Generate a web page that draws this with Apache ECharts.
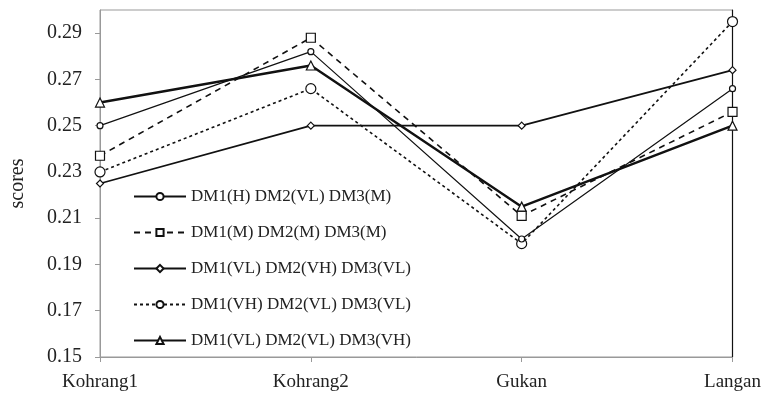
<!DOCTYPE html>
<html>
<head>
<meta charset="utf-8">
<script src="https://cdn.jsdelivr.net/npm/echarts@6/dist/echarts.min.js"></script>
<style>
html,body{margin:0;padding:0;background:#fff;}
#c{width:764px;height:403px;}
</style>
</head>
<body>
<div id="c"></div>
<script>
var categories = ['Kohrang1', 'Kohrang2', 'Gukan', 'Langan'];
var seriesNames = [
  'DM1(H) DM2(VL) DM3(M)',
  'DM1(M) DM2(M) DM3(M)',
  'DM1(VL) DM2(VH) DM3(VL)',
  'DM1(VH) DM2(VL) DM3(VL)',
  'DM1(VL) DM2(VL) DM3(VH)'
];
var s1 = [0.250, 0.282, 0.201, 0.266];
var s2 = [0.237, 0.288, 0.211, 0.256];
var s3 = [0.225, 0.250, 0.250, 0.274];
var s4 = [0.230, 0.266, 0.199, 0.295];
var s5 = [0.260, 0.276, 0.215, 0.250];

var FONT = '"Liberation Serif", "Times New Roman", serif';
var chart = echarts.init(document.getElementById('c'), null, {renderer: 'canvas'});

function mk(name, data, lineW, lineType, symbol, size, z) {
  return {
    name: name, type: 'line', data: data, z: z,
    symbol: symbol, symbolSize: size, showAllSymbol: true,
    lineStyle: {color: '#111', width: lineW, type: lineType},
    itemStyle: {color: '#fff', borderColor: '#111', borderWidth: 1.2},
    emphasis: {disabled: true},
    animation: false
  };
}

chart.setOption({
  animation: false,
  backgroundColor: '#fff',
  grid: {left: 93, right: 31, top: 10, bottom: 46, show: true, borderColor: '#999', borderWidth: 1, containLabel: false},
  legend: {
    orient: 'vertical', left: 128, top: 183,
    itemWidth: 52, itemHeight: 9, itemGap: 19,
    textStyle: {fontFamily: FONT, fontSize: 17, color: '#222'},
    data: seriesNames
  },
  xAxis: {
    type: 'category', data: categories, boundaryGap: false,
    axisLine: {lineStyle: {color: '#999', width: 1}},
    axisTick: {show: true, length: 5, lineStyle: {color: '#999'}},
    axisLabel: {fontFamily: FONT, fontSize: 19, color: '#222', margin: 16}
  },
  yAxis: [{
    type: 'value', min: 0.15, max: 0.30, interval: 0.02,
    name: 'scores', nameLocation: 'middle', nameRotate: 90, nameGap: 72,
    nameTextStyle: {fontFamily: FONT, fontSize: 20, color: '#222'},
    axisLine: {show: true, lineStyle: {color: '#999', width: 1}},
    axisTick: {show: true, length: 5, lineStyle: {color: '#999'}},
    splitLine: {show: false},
    axisLabel: {fontFamily: FONT, fontSize: 20, color: '#222', margin: 18, showMaxLabel: false,
      formatter: function (v) { return v.toFixed(2); }}
  }, {
    type: 'value', min: 0.15, max: 0.30, interval: 0.02, position: 'right',
    axisLine: {show: true, lineStyle: {color: '#111', width: 1.2}},
    axisTick: {show: false}, axisLabel: {show: false}, splitLine: {show: false}
  }],
  series: [
    mk(seriesNames[0], s1, 1.2, 'solid', 'circle', 6, 5),
    mk(seriesNames[1], s2, 1.6, [6, 5], 'rect', 9, 4),
    mk(seriesNames[2], s3, 1.8, 'solid', 'diamond', 7, 3),
    mk(seriesNames[3], s4, 1.6, [3, 3], 'circle', 10, 2),
    mk(seriesNames[4], s5, 2.4, 'solid', 'triangle', 9, 6)
  ]
});
</script>
</body>
</html>
